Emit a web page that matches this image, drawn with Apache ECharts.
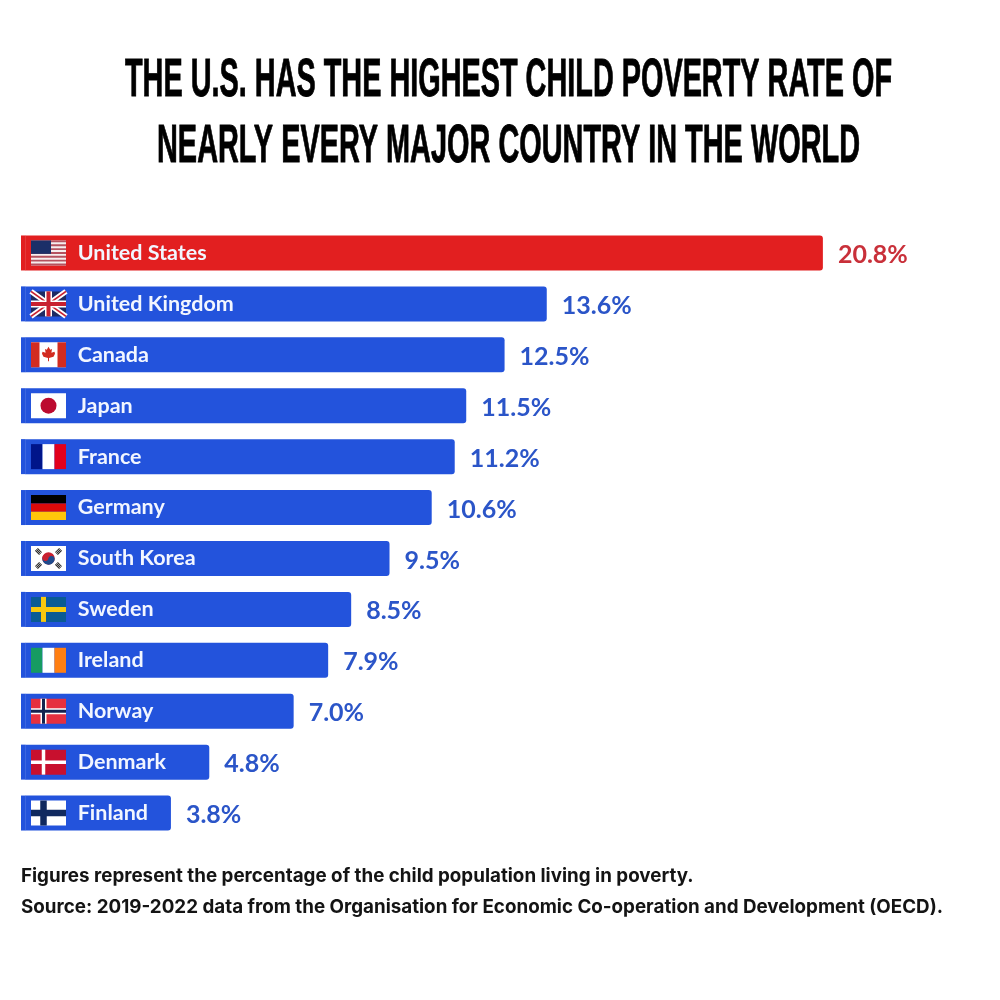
<!DOCTYPE html>
<html>
<head>
<meta charset="utf-8">
<script src="https://cdn.jsdelivr.net/npm/echarts@6/dist/echarts.min.js"></script>
<style>html,body{margin:0;background:#fff}#chart{width:1000px;height:1000px}</style>
</head>
<body>
<div id="chart"></div>
<script>
var countries = ['United States','United Kingdom','Canada','Japan','France','Germany','South Korea','Sweden','Ireland','Norway','Denmark','Finland'];
var rates = [20.8,13.6,12.5,11.5,11.2,10.6,9.5,8.5,7.9,7.0,4.8,3.8];
var titleLines = ['THE U.S. HAS THE HIGHEST CHILD POVERTY RATE OF','NEARLY EVERY MAJOR COUNTRY IN THE WORLD'];
var notes = ['Figures represent the percentage of the child population living in poverty.','Source: 2019-2022 data from the Organisation for Economic Co-operation and Development (OECD).'];

var BLUE = '#2353dc', RED = '#e21f20';

// flag pieces, all in a 35x25 box
function r(x,y,w,h,fill){ return {type:'rect',shape:{x:x,y:y,width:w,height:h},style:{fill:fill}}; }
function c(x,y,rad,fill){ return {type:'circle',shape:{cx:x,cy:y,r:rad},style:{fill:fill}}; }
function p(points,fill){ return {type:'polygon',shape:{points:points},style:{fill:fill}}; }
function l(x1,y1,x2,y2,w,col){ return {type:'line',shape:{x1:x1,y1:y1,x2:x2,y2:y2},style:{stroke:col,lineWidth:w}}; }
function nordic(bg,cross,w,inner,iw){
  var out = [r(0,0,35,25,bg),r(12.5-w/2,0,w,25,cross),r(0,12.5-w/2,35,w,cross)];
  if(inner) out.push(r(12.5-iw/2,0,iw,25,inner),r(0,12.5-iw/2,35,iw,inner));
  return out;
}
function usFlag(){
  var out = [r(0,0,35,25,'#f6eeee')];
  for(var i=0;i<7;i++) out.push(r(0,i*3.85,35,1.9,'#b5525f'));
  out.push(r(0,0,20,13.4,'#1b2f68'));
  return out;
}
function trigram(x,y,ang){
  return {type:'group',x:x,y:y,rotation:ang,children:[r(-3,-2,6,1,'#222'),r(-3,-.5,6,1,'#222'),r(-3,1,6,1,'#222')]};
}
var flags = {
  'United States': usFlag,
  'United Kingdom': function(){ return [
    r(0,0,35,25,'#1d2a63'),l(0,0,35,25,5.5,'#fff'),l(35,0,0,25,5.5,'#fff'),
    l(0,0,35,25,1.8,'#c8202f'),l(35,0,0,25,1.8,'#c8202f'),
    r(14,0,7,25,'#fff'),r(0,9,35,7,'#fff'),r(15.5,0,4,25,'#c8202f'),r(0,10.5,35,4,'#c8202f')]; },
  'Canada': function(){ return [
    r(0,0,35,25,'#fff'),r(0,0,8.5,25,'#d22c20'),r(26.5,0,8.5,25,'#d22c20'),
    p([[17.5,4.5],[19.2,7.5],[21,6.8],[20.4,10.5],[23.5,9.5],[24,11.5],[22.5,14.5],[18,15.8],[18,19],[17,19],[17,15.8],[12.5,14.5],[11,11.5],[11.5,9.5],[14.6,10.5],[14,6.8],[15.8,7.5]],'#d22c20')]; },
  'Japan': function(){ return [r(0,0,35,25,'#fff'),c(17.5,12.5,8,'#bc0a2f')]; },
  'France': function(){ return [r(0,0,11.5,25,'#00158a'),r(11.5,0,12,25,'#fff'),r(23.5,0,11.5,25,'#e2001c')]; },
  'Germany': function(){ return [r(0,0,35,8.4,'#000'),r(0,8.4,35,8.3,'#dd0a0a'),r(0,16.7,35,8.3,'#ffc60a')]; },
  'South Korea': function(){ return [
    r(0,0,35,25,'#fff'),c(17.5,12.5,6.2,'#c8202f'),
    {type:'sector',shape:{cx:17.5,cy:12.5,r:6.2,startAngle:0.2,endAngle:Math.PI+0.2},style:{fill:'#1f4a8c'}},
    c(14.5,11.9,3.1,'#c8202f'),c(20.5,13.1,3.1,'#1f4a8c'),
    trigram(7.5,5.5,-Math.PI/4),trigram(27.5,5.5,Math.PI/4),trigram(7.5,19.5,Math.PI/4),trigram(27.5,19.5,-Math.PI/4)]; },
  'Sweden': function(){ return nordic('#0a5b94','#f7c80f',5); },
  'Ireland': function(){ return [r(0,0,11.5,25,'#169b62'),r(11.5,0,12,25,'#fff'),r(23.5,0,11.5,25,'#ff7f12')]; },
  'Norway': function(){ return nordic('#e5303f','#fff',6,'#14234f',3); },
  'Denmark': function(){ return nordic('#c8102e','#fff',3.5); },
  'Finland': function(){ return nordic('#fff','#10295f',6.5); }
};

// title font is condensed in the original, squeeze a bold sans to the same widths
var titleWidths = [767,703];
var titleFont = 'bold 53px "Liberation Sans"';
var ctx = document.createElement('canvas').getContext('2d');
ctx.font = titleFont;
var titleEls = titleLines.map(function(t,i){
  return {type:'text',x:508.5,y:81+i*66,scaleX:titleWidths[i]/ctx.measureText(t).width,
    style:{text:t,fill:'#000',stroke:'#000',lineWidth:0.9,font:titleFont,textAlign:'center',textVerticalAlign:'middle'}};
});
var noteEls = notes.map(function(t,i){
  return {type:'text',x:21,y:876+i*31,
    style:{text:t,fill:'#141414',font:'bold 18.8px "Inter"',textAlign:'left',textVerticalAlign:'middle'}};
});

var myChart = echarts.init(document.getElementById('chart'),null,{renderer:'canvas'});
var option = {
  backgroundColor:'#fff',
  animation:false,
  grid:{left:25.2,top:227.5,width:958.75,height:611},
  xAxis:{type:'value',min:0,max:25,show:false},
  yAxis:{
    type:'category',inverse:true,data:countries,z:10,
    axisLine:{show:false},axisTick:{show:false},
    axisLabel:{inside:true,margin:52.5,color:'#f2f6ff',fontFamily:'Lato',fontWeight:700,fontSize:21.5,padding:[7,0,0,0]}
  },
  series:[
    {
      type:'bar',barWidth:35,
      data:rates.map(function(v,i){
        return {value:v,
          itemStyle:{color:i===0?RED:BLUE,borderRadius:[0,3,3,0]},
          label:{color:i===0?'#c9303a':'#2b55c8'}};
      }),
      label:{show:true,position:'right',distance:15,offset:[0,2],fontFamily:'Lato',fontWeight:700,fontSize:25,
        formatter:function(o){ return o.value.toFixed(1)+'%'; }}
    },
    {
      type:'custom',z:8,silent:true,
      data:countries.map(function(n,i){ return [0,i]; }),
      encode:{x:0,y:1},
      renderItem:function(params,api){
        var i = params.dataIndex;
        var pt = api.coord([0,api.value(1)]);
        // bars begin a little left of the zero line
        var stub = {type:'rect',shape:{x:-4.2,y:-5,width:4.4,height:35},style:{fill:i===0?RED:BLUE}};
        var flag = {type:'group',x:5.8,y:0,children:flags[countries[i]]()};
        return {type:'group',x:pt[0],y:pt[1]-12.5,children:[stub,flag]};
      }
    }
  ],
  graphic:titleEls.concat(noteEls)
};
myChart.setOption(option);
</script>
</body>
</html>
